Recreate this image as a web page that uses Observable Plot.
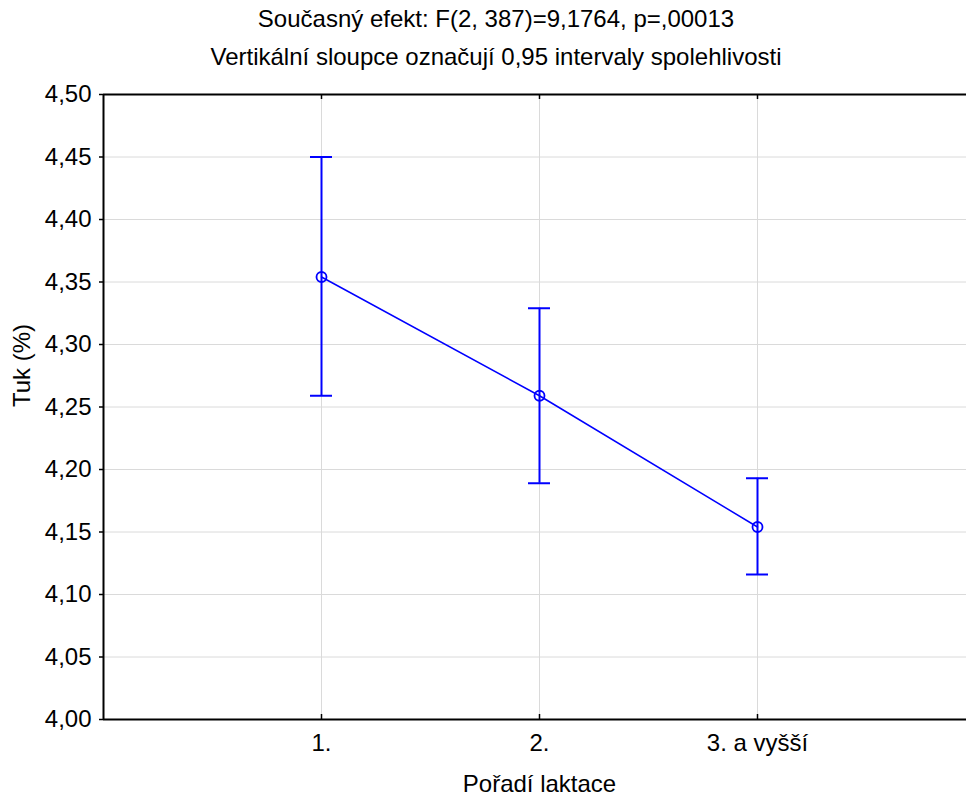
<!DOCTYPE html>
<html>
<head>
<meta charset="utf-8">
<script src="https://cdn.jsdelivr.net/npm/d3@7"></script>
<script src="https://cdn.jsdelivr.net/npm/@observablehq/plot@0.6"></script>
<style>
  html, body { margin: 0; padding: 0; overflow: hidden; background: #fff; width: 966px; height: 796px; }
  body { font-family: "Liberation Sans", Arial, sans-serif; }
  #title { width: 992px; text-align: center; font-size: 24px; line-height: 38px; color: #000; }
  #chart svg { overflow: visible; }
</style>
</head>
<body>
<div id="title">
  <div>Současný efekt: F(2, 387)=9,1764, p=,00013</div>
  <div>Vertikální sloupce označují 0,95 intervaly spolehlivosti</div>
</div>
<div id="chart"></div>
<script>
const categories = ["1.", "2.", "3. a vyšší"];
const positions = [1, 2, 3];
const means = [4.354, 4.259, 4.154];
const upper = [4.450, 4.329, 4.193];
const lower = [4.259, 4.189, 4.116];
const yTicks = [4.00, 4.05, 4.10, 4.15, 4.20, 4.25, 4.30, 4.35, 4.40, 4.45, 4.50];
const yLabel = "Tuk (%)";
const xLabel = "Pořadí laktace";

const data = categories.map((c, i) => ({cat: c, pos: positions[i], mean: means[i], hi: upper[i], lo: lower[i]}));
const fmt = d => d.toFixed(2).replace(".", ",");
const blue = "#0000ff";

const plot = Plot.plot({
  width: 966,
  height: 720,
  marginTop: 18,
  marginBottom: 77,
  marginLeft: 103,
  marginRight: 0,
  style: {fontFamily: "'Liberation Sans', Arial, sans-serif", fontSize: "24px", color: "#000", background: "#fff", overflow: "visible"},
  x: {type: "linear", domain: [0, 4], range: [103, 975]},
  y: {domain: [4.0, 4.5]},
  marks: [
    Plot.gridY(yTicks, {stroke: "#dadada", strokeOpacity: 1, strokeWidth: 1}),
    Plot.gridX(positions, {stroke: "#dadada", strokeOpacity: 1, strokeWidth: 1}),
    Plot.axisY(yTicks, {tickFormat: fmt, tickSize: 4, tickPadding: 8, strokeWidth: 1.5, fontSize: 24, label: null}),
    Plot.axisX(positions, {tickFormat: d => categories[positions.indexOf(d)], tickSize: 0, tickPadding: 14, fontSize: 24, label: null}),
    // frame: top, bottom, left
    Plot.ruleY([4.5], {stroke: "#000", strokeWidth: 2}),
    Plot.ruleY([4.0], {stroke: "#000", strokeWidth: 2}),
    Plot.ruleX([0], {stroke: "#000", strokeWidth: 2}),
    // inner ticks on bottom and top
    Plot.ruleX(positions, {y1: 4.0, y2: 4.0, insetTop: -5, stroke: "#000", strokeWidth: 1.5}),
    Plot.ruleX(positions, {y1: 4.5, y2: 4.5, insetBottom: -5, stroke: "#000", strokeWidth: 1.5}),
    // error bars
    Plot.ruleX(data, {x: "pos", y1: "lo", y2: "hi", stroke: blue, strokeWidth: 2}),
    Plot.ruleY(data, {y: "hi", x1: "pos", x2: "pos", insetLeft: -11, insetRight: -11, stroke: blue, strokeWidth: 2}),
    Plot.ruleY(data, {y: "lo", x1: "pos", x2: "pos", insetLeft: -11, insetRight: -11, stroke: blue, strokeWidth: 2}),
    Plot.line(data, {x: "pos", y: "mean", stroke: blue, strokeWidth: 1.5}),
    Plot.dot(data, {x: "pos", y: "mean", r: 5, stroke: blue, fill: "none", strokeWidth: 1.8}),
    // axis labels
    Plot.text([yLabel], {frameAnchor: "left", dx: -81, rotate: -90, fontSize: 24, fill: "#000"}),
    Plot.text([xLabel], {x: positions[1], frameAnchor: "bottom", dy: 72, fontSize: 24, fill: "#000"})
  ]
});
document.getElementById("chart").appendChild(plot);
</script>
</body>
</html>
